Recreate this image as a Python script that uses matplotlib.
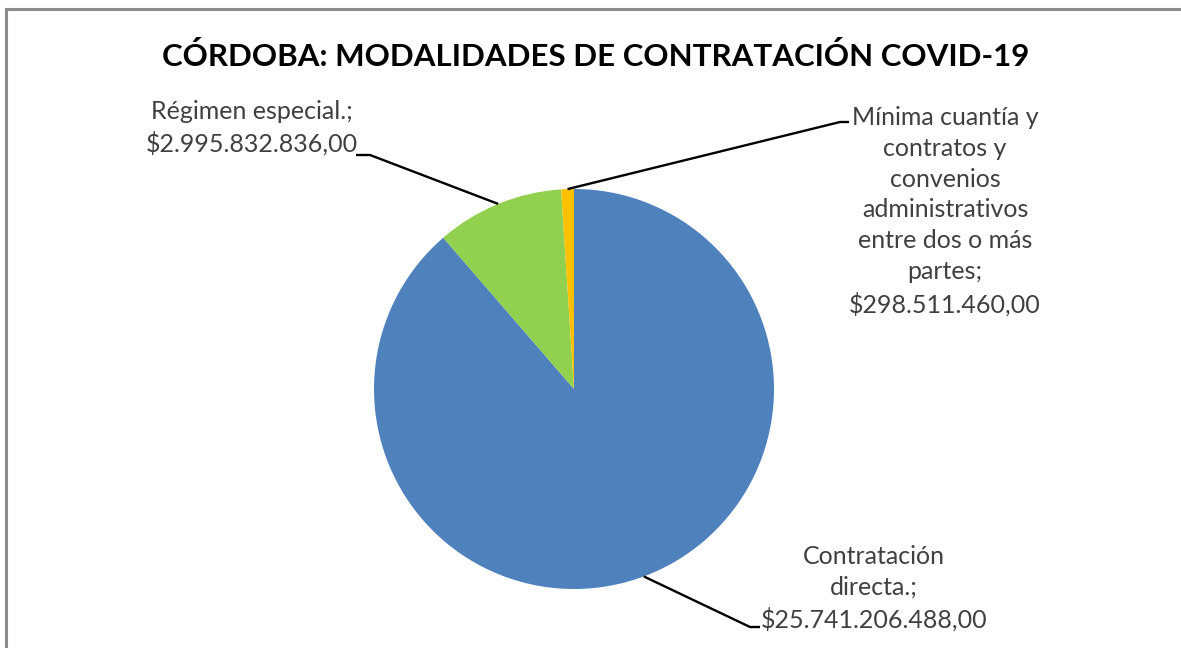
import numpy as np
import matplotlib
matplotlib.use("Agg")
import matplotlib.pyplot as plt
from matplotlib.lines import Line2D

# ---- data ----
categories = ["Contratación directa.", "Régimen especial.",
              "Mínima cuantía y contratos y convenios administrativos entre dos o más partes"]
values = [25741206488.00, 2995832836.00, 298511460.00]
value_labels = ["$25.741.206.488,00", "$2.995.832.836,00", "$298.511.460,00"]
label_texts = ["Contratación\ndirecta.;\n$25.741.206.488,00",
               "Régimen especial.;\n$2.995.832.836,00",
               "Mínima cuantía y\ncontratos y\nconvenios\nadministrativos\nentre dos o más\npartes;\n$298.511.460,00"]
colors = ["#4F81BD", "#92D050", "#FFC000"]
title = "CÓRDOBA: MODALIDADES DE CONTRATACIÓN COVID-19"

W, H = 1181, 648
CX, CY, R = 574, 389, 200  # pie centre / radius in pixels

plt.rcParams['font.family'] = ['Lato', 'DejaVu Sans']
fig = plt.figure(figsize=(W / 100, H / 100), dpi=100)
ax = fig.add_axes([0, 0, 1, 1])

def px(x, y):
    return (x - CX) / R, (CY - y) / R

wedges, _ = ax.pie(values, colors=colors, startangle=90, counterclock=False,
                   radius=1, center=(0, 0), frame=True,
                   wedgeprops=dict(linewidth=0))
ax.set_xlim(-CX / R, (W - CX) / R)
ax.set_ylim((CY - H) / R, CY / R)
ax.axis('off')
ax.set_aspect('equal')

# label layout: (text centre x, y), knee point, end point (pixels)
layout = [
    dict(text=(874, 588), knee=(750, 627), end=(760, 627)),
    dict(text=(252, 128), knee=(370, 155), end=(356, 155)),
    dict(text=(945, 211), knee=(840, 122), end=(849, 122)),
]
txtcol = "#404040"
for w, lab, lay in zip(wedges, label_texts, layout):
    mid = np.deg2rad((w.theta1 + w.theta2) / 2)
    p0 = (np.cos(mid) * 1.0, np.sin(mid) * 1.0)
    k = px(*lay['knee'])
    e = px(*lay['end'])
    ax.add_line(Line2D([p0[0], k[0], e[0]], [p0[1], k[1], e[1]],
                       color='black', lw=1.7, solid_capstyle='butt'))
    tx, ty = px(*lay['text'])
    ax.text(tx, ty, lab, ha='center', va='center', fontsize=18,
            color=txtcol, linespacing=1.42)

fig.text(596 / W, 1 - 57 / H, title, ha='center', va='center',
         fontsize=22.5, fontweight='bold', color='black')

# chart-area border (top and left visible)
fig.add_artist(Line2D([6 / W, 1], [1 - 9 / H, 1 - 9 / H], color='#8c8c8c', lw=2.2,
                      transform=fig.transFigure))
fig.add_artist(Line2D([6 / W, 6 / W], [0, 1 - 9 / H], color='#8c8c8c', lw=2.2,
                      transform=fig.transFigure))

fig.savefig("out.png", dpi=100, facecolor='white')
